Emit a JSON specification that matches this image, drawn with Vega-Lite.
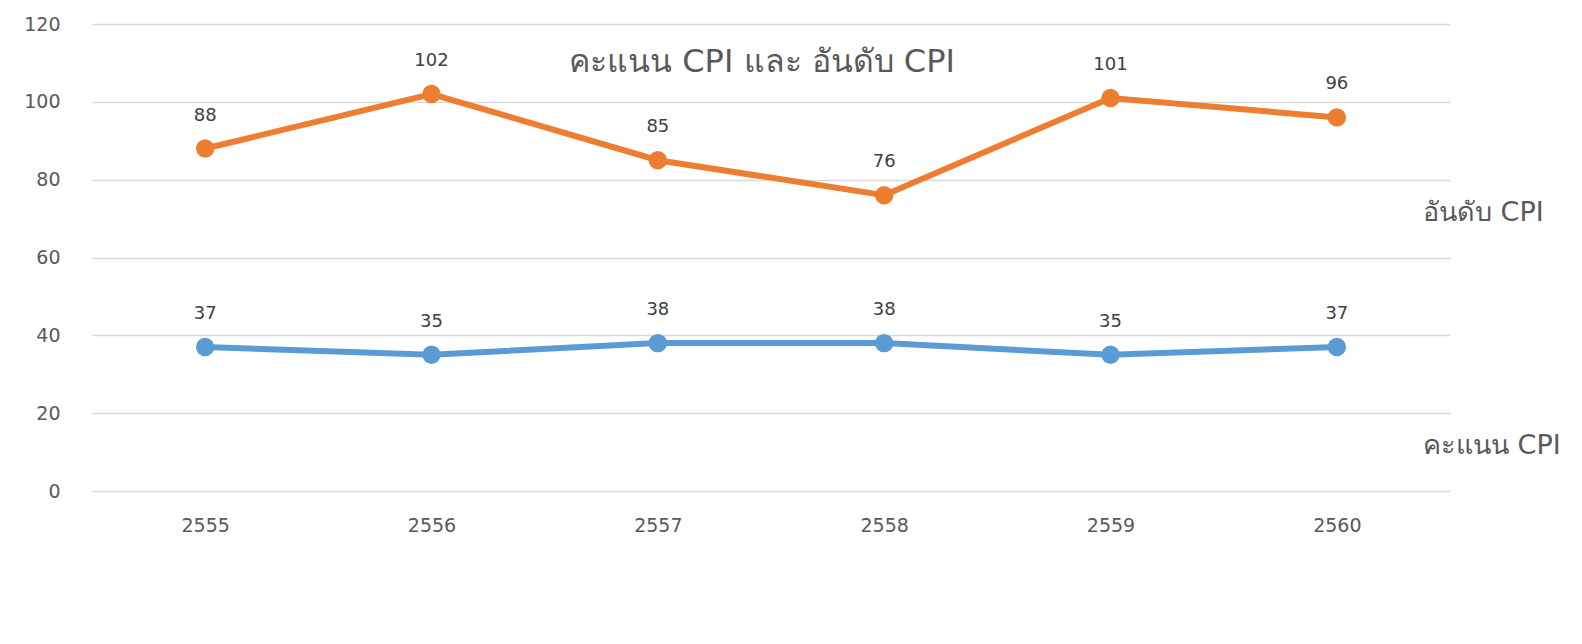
{
  "$schema": "https://vega.github.io/schema/vega-lite/v6.json",
  "width": 1358,
  "height": 467,
  "autosize": "none",
  "padding": {"left": 92, "top": 24, "right": 132, "bottom": 153},
  "background": "white",
  "config": {"view": {"stroke": null}},
  "title": {"text": "คะแนน CPI และ อันดับ CPI", "offset": -64, "dx": -9, "fontSize": 32, "font": "DejaVu Sans", "fontWeight": "normal", "color": "#595959", "anchor": "middle", "frame": "group"},
  "data": {"values": [
    {"year": "2555", "series": "อันดับ CPI", "value": 88},
    {"year": "2556", "series": "อันดับ CPI", "value": 102},
    {"year": "2557", "series": "อันดับ CPI", "value": 85},
    {"year": "2558", "series": "อันดับ CPI", "value": 76},
    {"year": "2559", "series": "อันดับ CPI", "value": 101},
    {"year": "2560", "series": "อันดับ CPI", "value": 96},
    {"year": "2555", "series": "คะแนน CPI", "value": 37},
    {"year": "2556", "series": "คะแนน CPI", "value": 35},
    {"year": "2557", "series": "คะแนน CPI", "value": 38},
    {"year": "2558", "series": "คะแนน CPI", "value": 38},
    {"year": "2559", "series": "คะแนน CPI", "value": 35},
    {"year": "2560", "series": "คะแนน CPI", "value": 37}
  ]},
  "encoding": {
    "x": {"field": "year", "type": "ordinal", "scale": {"type": "point", "padding": 0.5},
      "axis": {"title": null, "labelAngle": 0, "grid": false, "ticks": false, "domain": false, "labelPadding": 25, "labelFontSize": 19, "labelColor": "#595959", "labelFont": "DejaVu Sans"}},
    "y": {"field": "value", "type": "quantitative", "scale": {"domain": [0, 120]},
      "axis": {"title": null, "values": [0, 20, 40, 60, 80, 100, 120], "ticks": false, "domain": false, "labelPadding": 32, "labelFontSize": 19, "labelColor": "#595959", "labelFont": "DejaVu Sans", "gridColor": "#D9D9D9", "gridWidth": 1.5}},
    "color": {"field": "series", "type": "nominal",
      "scale": {"domain": ["อันดับ CPI", "คะแนน CPI"], "range": ["#ED7D31", "#5B9BD5"]},
      "legend": {"orient": "none", "legendX": 1304, "legendY": 175, "title": null, "symbolSize": 0, "symbolStrokeWidth": 0, "labelOffset": 0, "labelFontSize": 27, "labelColor": "#595959", "labelFont": "DejaVu Sans", "rowPadding": 205, "labelLimit": 300}}
  },
  "layer": [
    {"mark": {"type": "line", "strokeWidth": 6, "point": {"filled": true, "size": 340, "opacity": 1}}},
    {"mark": {"type": "text", "dy": -33, "fontSize": 18, "font": "DejaVu Sans", "baseline": "middle"},
     "encoding": {"text": {"field": "value", "type": "quantitative"}, "color": {"value": "#404040"}}}
  ]
}
